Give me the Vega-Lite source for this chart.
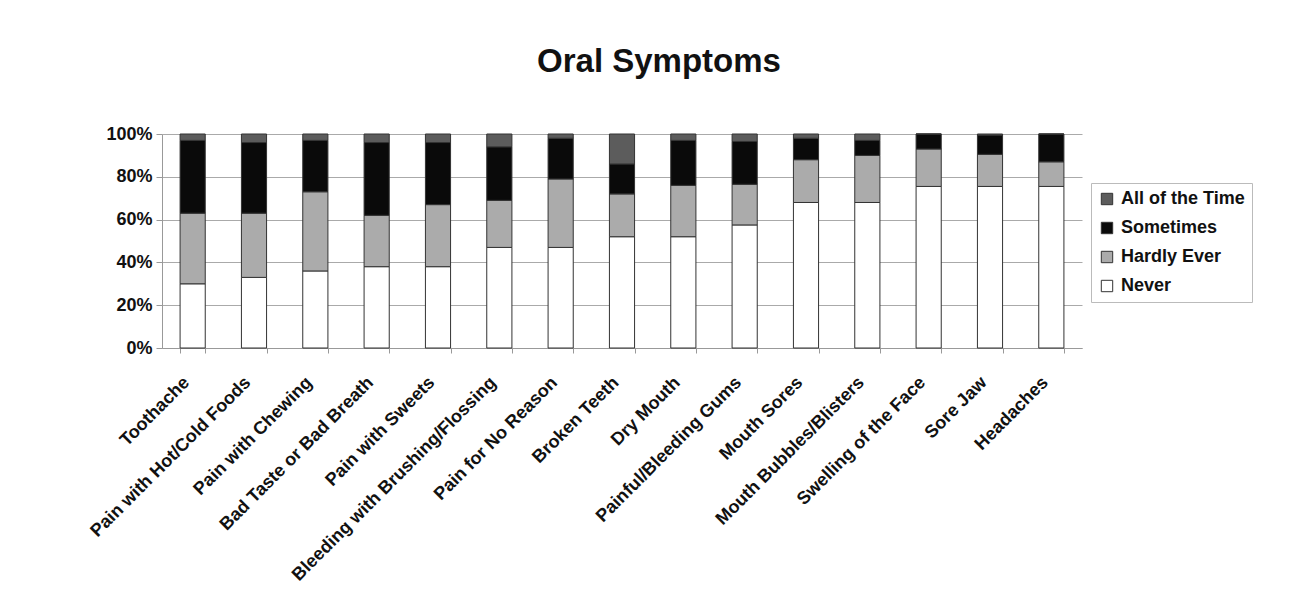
{
  "$schema": "https://vega.github.io/schema/vega-lite/v6.json",
  "autosize": {"type": "none"},
  "width": 920,
  "height": 214,
  "padding": {"left": 162, "top": 134, "right": 222, "bottom": 260},
  "background": "white",
  "title": {
    "text": "Oral Symptoms",
    "font": "Liberation Sans",
    "fontSize": 33,
    "fontWeight": "bold",
    "color": "#111111",
    "anchor": "middle",
    "frame": "group",
    "dx": 37,
    "offset": 46
  },
  "data": {
    "values": [
      {"symptom": "Toothache", "response": "Never", "pct": 30},
      {"symptom": "Toothache", "response": "Hardly Ever", "pct": 33},
      {"symptom": "Toothache", "response": "Sometimes", "pct": 34},
      {"symptom": "Toothache", "response": "All of the Time", "pct": 3},
      {"symptom": "Pain with Hot/Cold Foods", "response": "Never", "pct": 33},
      {"symptom": "Pain with Hot/Cold Foods", "response": "Hardly Ever", "pct": 30},
      {"symptom": "Pain with Hot/Cold Foods", "response": "Sometimes", "pct": 33},
      {"symptom": "Pain with Hot/Cold Foods", "response": "All of the Time", "pct": 4},
      {"symptom": "Pain with Chewing", "response": "Never", "pct": 36},
      {"symptom": "Pain with Chewing", "response": "Hardly Ever", "pct": 37},
      {"symptom": "Pain with Chewing", "response": "Sometimes", "pct": 24},
      {"symptom": "Pain with Chewing", "response": "All of the Time", "pct": 3},
      {"symptom": "Bad Taste or Bad Breath", "response": "Never", "pct": 38},
      {"symptom": "Bad Taste or Bad Breath", "response": "Hardly Ever", "pct": 24},
      {"symptom": "Bad Taste or Bad Breath", "response": "Sometimes", "pct": 34},
      {"symptom": "Bad Taste or Bad Breath", "response": "All of the Time", "pct": 4},
      {"symptom": "Pain with Sweets", "response": "Never", "pct": 38},
      {"symptom": "Pain with Sweets", "response": "Hardly Ever", "pct": 29},
      {"symptom": "Pain with Sweets", "response": "Sometimes", "pct": 29},
      {"symptom": "Pain with Sweets", "response": "All of the Time", "pct": 4},
      {"symptom": "Bleeding with Brushing/Flossing", "response": "Never", "pct": 47},
      {"symptom": "Bleeding with Brushing/Flossing", "response": "Hardly Ever", "pct": 22},
      {"symptom": "Bleeding with Brushing/Flossing", "response": "Sometimes", "pct": 25},
      {"symptom": "Bleeding with Brushing/Flossing", "response": "All of the Time", "pct": 6},
      {"symptom": "Pain for No Reason", "response": "Never", "pct": 47},
      {"symptom": "Pain for No Reason", "response": "Hardly Ever", "pct": 32},
      {"symptom": "Pain for No Reason", "response": "Sometimes", "pct": 19},
      {"symptom": "Pain for No Reason", "response": "All of the Time", "pct": 2},
      {"symptom": "Broken Teeth", "response": "Never", "pct": 52},
      {"symptom": "Broken Teeth", "response": "Hardly Ever", "pct": 20},
      {"symptom": "Broken Teeth", "response": "Sometimes", "pct": 14},
      {"symptom": "Broken Teeth", "response": "All of the Time", "pct": 14},
      {"symptom": "Dry Mouth", "response": "Never", "pct": 52},
      {"symptom": "Dry Mouth", "response": "Hardly Ever", "pct": 24},
      {"symptom": "Dry Mouth", "response": "Sometimes", "pct": 21},
      {"symptom": "Dry Mouth", "response": "All of the Time", "pct": 3},
      {"symptom": "Painful/Bleeding Gums", "response": "Never", "pct": 57.5},
      {"symptom": "Painful/Bleeding Gums", "response": "Hardly Ever", "pct": 19},
      {"symptom": "Painful/Bleeding Gums", "response": "Sometimes", "pct": 20},
      {"symptom": "Painful/Bleeding Gums", "response": "All of the Time", "pct": 3.5},
      {"symptom": "Mouth Sores", "response": "Never", "pct": 68},
      {"symptom": "Mouth Sores", "response": "Hardly Ever", "pct": 20},
      {"symptom": "Mouth Sores", "response": "Sometimes", "pct": 10},
      {"symptom": "Mouth Sores", "response": "All of the Time", "pct": 2},
      {"symptom": "Mouth Bubbles/Blisters", "response": "Never", "pct": 68},
      {"symptom": "Mouth Bubbles/Blisters", "response": "Hardly Ever", "pct": 22},
      {"symptom": "Mouth Bubbles/Blisters", "response": "Sometimes", "pct": 7},
      {"symptom": "Mouth Bubbles/Blisters", "response": "All of the Time", "pct": 3},
      {"symptom": "Swelling of the Face", "response": "Never", "pct": 75.5},
      {"symptom": "Swelling of the Face", "response": "Hardly Ever", "pct": 17.5},
      {"symptom": "Swelling of the Face", "response": "Sometimes", "pct": 7},
      {"symptom": "Swelling of the Face", "response": "All of the Time", "pct": 0},
      {"symptom": "Sore Jaw", "response": "Never", "pct": 75.5},
      {"symptom": "Sore Jaw", "response": "Hardly Ever", "pct": 15},
      {"symptom": "Sore Jaw", "response": "Sometimes", "pct": 9},
      {"symptom": "Sore Jaw", "response": "All of the Time", "pct": 0.5},
      {"symptom": "Headaches", "response": "Never", "pct": 75.5},
      {"symptom": "Headaches", "response": "Hardly Ever", "pct": 11.5},
      {"symptom": "Headaches", "response": "Sometimes", "pct": 13},
      {"symptom": "Headaches", "response": "All of the Time", "pct": 0}
    ]
  },
  "transform": [
    {"calculate": "indexof(['Never','Hardly Ever','Sometimes','All of the Time'], datum.response)", "as": "stackOrder"}
  ],
  "mark": {"type": "bar", "stroke": "#333333", "strokeWidth": 1},
  "encoding": {
    "x": {
      "field": "symptom",
      "type": "nominal",
      "sort": null,
      "title": null,
      "scale": {"paddingInner": 0.59, "paddingOuter": 0.295},
      "axis": {
        "labelAngle": -45,
        "labelAlign": "right",
        "labelBaseline": "bottom",
        "labelFont": "Liberation Sans",
        "labelFontSize": 18,
        "labelFontWeight": "bold",
        "labelColor": "#111111",
        "labelPadding": 33,
        "labelLimit": 400,
        "tickBand": "extent",
        "tickColor": "#999999",
        "tickSize": 5,
        "domainColor": "#999999",
        "grid": false
      }
    },
    "y": {
      "field": "pct",
      "type": "quantitative",
      "stack": "zero",
      "title": null,
      "scale": {"domain": [0, 100], "nice": false},
      "axis": {
        "values": [0, 20, 40, 60, 80, 100],
        "labelExpr": "datum.value + '%'",
        "labelFont": "Liberation Sans",
        "labelFontSize": 18,
        "labelFontWeight": "bold",
        "labelColor": "#111111",
        "labelPadding": 4,
        "tickColor": "#999999",
        "tickSize": 6,
        "domainColor": "#999999",
        "grid": true,
        "gridColor": "#aaaaaa",
        "gridWidth": 1
      }
    },
    "color": {
      "field": "response",
      "type": "nominal",
      "scale": {
        "domain": ["All of the Time", "Sometimes", "Hardly Ever", "Never"],
        "range": ["#5c5c5c", "#0a0a0a", "#ababab", "#ffffff"]
      },
      "legend": {
        "title": null,
        "orient": "none",
        "legendX": 929,
        "legendY": 49,
        "symbolType": "square",
        "symbolSize": 130,
        "symbolStrokeColor": "#333333",
        "symbolStrokeWidth": 1,
        "symbolOpacity": 1,
        "labelFont": "Liberation Sans",
        "labelFontSize": 18,
        "labelFontWeight": "bold",
        "labelColor": "#111111",
        "labelOffset": 5,
        "rowPadding": 11,
        "padding": 7,
        "strokeColor": "#bbbbbb",
        "fillColor": "white"
      }
    },
    "order": {"field": "stackOrder", "type": "quantitative", "sort": "ascending"}
  },
  "config": {
    "view": {"stroke": null}
  }
}
